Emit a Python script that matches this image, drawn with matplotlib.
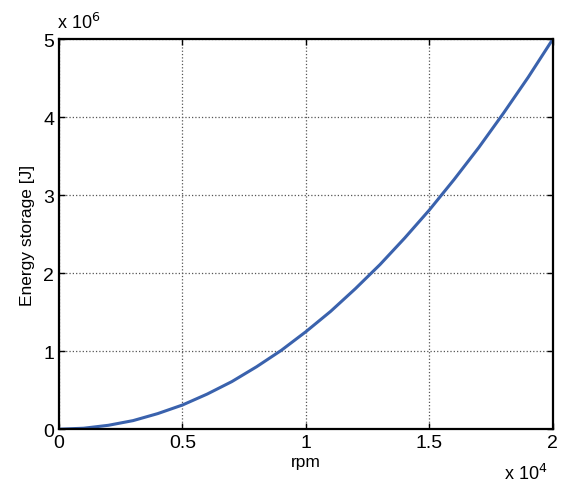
import numpy as np
import matplotlib
matplotlib.use('Agg')
import matplotlib.pyplot as plt

# values
rpm = [0, 1000, 2000, 3000, 4000, 5000, 6000, 7000, 8000, 9000, 10000,
       11000, 12000, 13000, 14000, 15000, 16000, 17000, 18000, 19000, 20000]
energy = [0, 0.0125e6, 0.05e6, 0.11e6, 0.2e6, 0.31e6, 0.45e6, 0.61e6, 0.8e6, 1.01e6, 1.25e6,
          1.51e6, 1.8e6, 2.11e6, 2.45e6, 2.81e6, 3.2e6, 3.61e6, 4.05e6, 4.51e6, 5.0e6]

plt.rcParams['font.family'] = ['Liberation Sans', 'DejaVu Sans']

fig = plt.figure(figsize=(5.7, 4.85), dpi=100)
ax = fig.add_axes([0.1035, 0.113, 0.8665, 0.8045])

ax.plot(rpm, energy, color='#3a62ad', lw=2.2)

ax.set_xlim(0, 20000)
ax.set_ylim(0, 5e6)
ax.set_xticks([0, 5000, 10000, 15000, 20000])
ax.set_xticklabels(['0', '0.5', '1', '1.5', '2'])
ax.set_yticks([0, 1e6, 2e6, 3e6, 4e6, 5e6])
ax.set_yticklabels(['0', '1', '2', '3', '4', '5'])
ax.tick_params(direction='in', top=True, right=True, labelsize=14, length=4, width=1)
ax.grid(True, linestyle=':', color='#555555', lw=0.9)
for s in ax.spines.values():
    s.set_linewidth(1.6)

ax.set_xlabel('rpm', fontsize=12.5, labelpad=2)
ax.set_ylabel('Energy storage [J]', fontsize=12.5, labelpad=6)

fig.text(0.1, 0.94, r'x 10$^6$', fontsize=13)
fig.text(0.885, 0.01, r'x 10$^4$', fontsize=13)

fig.savefig('out.png', dpi=100)
